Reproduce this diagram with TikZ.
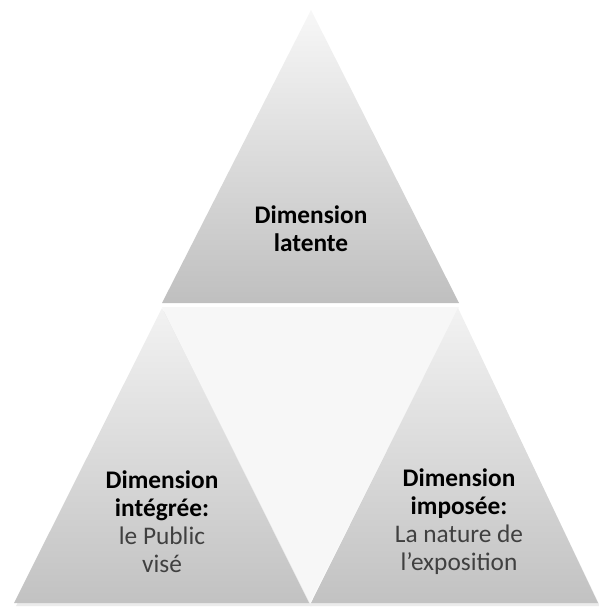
\documentclass[tikz,border=0pt]{standalone}
\usepackage{fontspec}
\setmainfont{Carlito}
\definecolor{txtgray}{RGB}{64,64,64}
\tikzset{every picture/.style={line width=0.75pt}}

\begin{document}
\begin{tikzpicture}[x=0.75pt,y=0.75pt,yscale=-1,xscale=1,
  dimtext/.style={align=center, inner sep=0.75pt, font=\fontsize{19}{21}\selectfont}]
\useasboundingbox (0,0) rectangle (599,607);

%Shape: Triangle (shadow)
\fill [black!8] (16,606) -- (164,310) -- (312,606) -- cycle ;
\fill [black!8] (310,606) -- (458,310) -- (600,606) -- cycle ;
%Shape: Triangle (middle)
\fill [black!3] (162,307) -- (459,307) -- (310,603) -- cycle ;
%Shape: Triangle (top)
\shade [top color=black!3, bottom color=black!25] (311,10) -- (459,303) -- (162,303) -- cycle ;
%Shape: Triangle (left)
\shade [top color=black!5, bottom color=black!24] (162,308) -- (309,603) -- (14,603) -- cycle ;
%Shape: Triangle (right)
\shade [top color=black!5, bottom color=black!24] (458,308) -- (598,603) -- (311,603) -- cycle ;

% Text Node
\draw (311,229) node [dimtext] (latent) {\textbf{Dimension}\\\textbf{latente}};
% Text Node
\draw (162,522) node [dimtext] (integree) {\textbf{Dimension}\\\textbf{intégrée:}\\\color{txtgray}le Public\\\color{txtgray}visé};
% Text Node
\draw (459,522) node [dimtext] (imposee) {\textbf{Dimension}\\\textbf{imposée:}\\\color{txtgray}La nature de\\\color{txtgray}l’exposition};

\end{tikzpicture}
\end{document}
